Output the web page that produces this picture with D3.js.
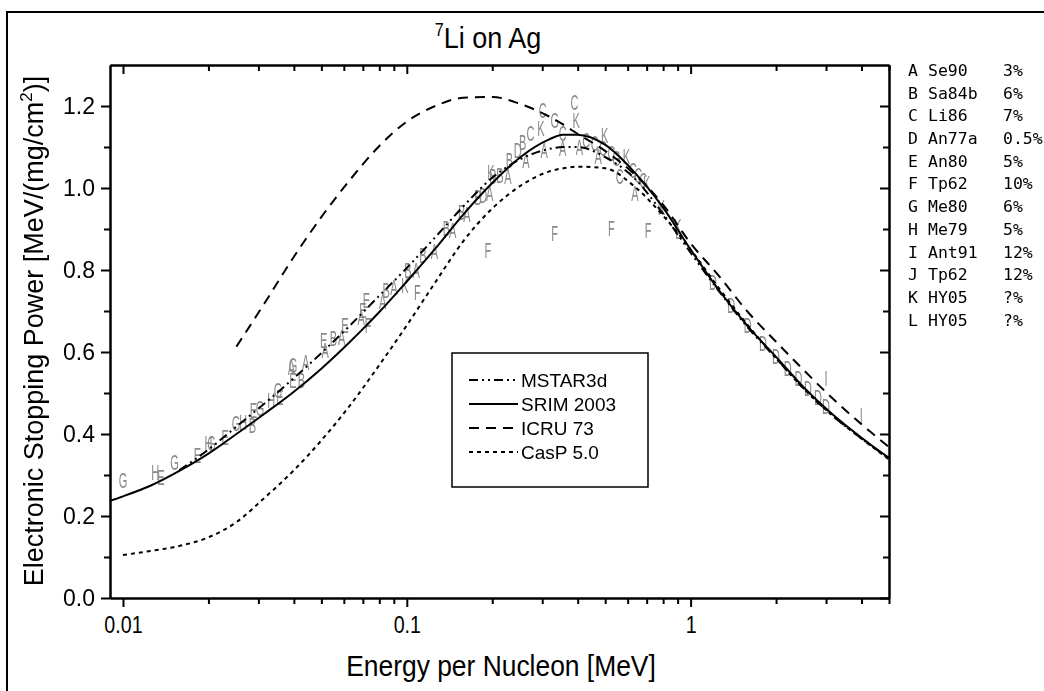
<!DOCTYPE html>
<html>
<head>
<meta charset="utf-8">
<script src="https://cdn.jsdelivr.net/npm/d3@7"></script>
<style>
  body { margin: 0; background: #fff; }
  svg { display: block; }
  .axis path, .axis line { stroke: #000; stroke-width: 2; }
</style>
</head>
<body>
<div id="chart"></div>
<script>
// energy grid (MeV/u) shared by the four tabulated curves
const energyGrid = [0.009, 0.01, 0.0126, 0.0158, 0.02, 0.0251, 0.0316, 0.0398, 0.0501, 0.0631,
  0.0794, 0.1, 0.126, 0.158, 0.2, 0.251, 0.316, 0.355, 0.398, 0.501,
  0.631, 0.794, 1, 1.26, 1.58, 2.0, 2.51, 3.16, 3.98, 5.0];

const mstar3d = [null, null, null, 0.312, 0.362, 0.418, 0.475, 0.535, 0.598, 0.665,
  0.735, 0.805, 0.880, 0.955, 1.025, 1.070, 1.095, 1.100, 1.100, 1.075,
  1.025, 0.940, 0.842, 0.748, 0.662, 0.585, 0.510, 0.445, 0.390, 0.340];

const srim2003 = [0.237, 0.248, 0.275, 0.310, 0.352, 0.400, 0.450, 0.502, 0.560, 0.625,
  0.695, 0.772, 0.852, 0.935, 1.012, 1.075, 1.118, 1.130, 1.130, 1.105,
  1.040, 0.955, 0.850, 0.750, 0.665, 0.588, 0.513, 0.448, 0.392, 0.342];

const icru73 = [null, null, null, null, null, 0.613, 0.720, 0.830, 0.930, 1.020,
  1.100, 1.162, 1.200, 1.220, 1.222, 1.205, 1.175, 1.155, 1.133, 1.090,
  1.035, 0.962, 0.865, 0.785, 0.700, 0.625, 0.555, 0.487, 0.425, 0.368];

const casp50 = [null, 0.105, 0.115, 0.127, 0.148, 0.185, 0.245, 0.310, 0.385, 0.470,
  0.565, 0.665, 0.770, 0.870, 0.950, 1.005, 1.040, 1.048, 1.052, 1.048,
  1.005, 0.935, 0.850, 0.755, 0.668, 0.585, 0.510, 0.445, 0.390, 0.338];

// experimental points, plotted as their reference letter
const pointLetter = ['G','H','E','G','E','H','G','E','G','H','B','E','G','H','E','G','A','G','E','B',
  'A','E','A','B','A','E','A','E','F','E','A','B','A','K','F','B','A','B','A','B',
  'A','B','A','B','F','D','A','B','K','B','A','B','D','A','B','C','K','A','C','G',
  'C','A','C','K','A','C','C','K','C','A','C','G','C','K','C','C','C','K','A','K',
  'K','L','F','F','F','D','D','D','D','D','D','D','D','D','D','I','I'];
const pointEnergy = [0.01, 0.0130, 0.0136, 0.0152, 0.0183, 0.0200, 0.0205, 0.0229, 0.0250, 0.0265,
  0.0286, 0.0288, 0.0304, 0.0333, 0.0357, 0.0352, 0.0392, 0.0397, 0.0397, 0.0425,
  0.0440, 0.0509, 0.0516, 0.0551, 0.0589, 0.0605, 0.069, 0.070, 0.073, 0.072,
  0.0822, 0.0845, 0.090, 0.0984, 0.109, 0.101, 0.108, 0.114, 0.125, 0.138,
  0.145, 0.156, 0.163, 0.178, 0.193, 0.186, 0.196, 0.201, 0.198, 0.213,
  0.227, 0.230, 0.246, 0.263, 0.256, 0.273, 0.297, 0.305, 0.301, 0.332,
  0.354, 0.354, 0.390, 0.395, 0.406, 0.429, 0.459, 0.498, 0.491, 0.472,
  0.526, 0.548, 0.563, 0.594, 0.627, 0.654, 0.681, 0.700, 0.636, 0.789,
  0.902, 0.905, 0.332, 0.526, 0.708, 1.198, 1.39, 1.59, 1.80, 2.00,
  2.20, 2.40, 2.59, 2.81, 3.00, 3.00, 3.99];
const pointPower = [0.288, 0.308, 0.296, 0.332, 0.349, 0.377, 0.377, 0.393, 0.426, 0.430,
  0.422, 0.459, 0.463, 0.483, 0.491, 0.507, 0.564, 0.568, 0.532, 0.532,
  0.576, 0.629, 0.605, 0.633, 0.637, 0.666, 0.686, 0.702, 0.666, 0.727,
  0.723, 0.751, 0.759, 0.763, 0.747, 0.800, 0.800, 0.837, 0.845, 0.902,
  0.898, 0.941, 0.936, 0.978, 0.849, 0.983, 0.987, 1.028, 1.040, 1.032,
  1.028, 1.068, 1.093, 1.068, 1.113, 1.133, 1.145, 1.093, 1.190, 1.166,
  1.133, 1.097, 1.210, 1.166, 1.101, 1.117, 1.109, 1.129, 1.097, 1.077,
  1.085, 1.072, 1.028, 1.077, 1.044, 1.032, 1.020, 1.011, 0.987, 0.954,
  0.906, 0.895, 0.890, 0.902, 0.898, 0.771, 0.715, 0.666, 0.621, 0.589,
  0.560, 0.536, 0.511, 0.491, 0.467, 0.536, 0.446];

// reference key on the right
const refLetters = ['A','B','C','D','E','F','G','H','I','J','K','L'];
const refNames = ['Se90','Sa84b','Li86','An77a','An80','Tp62','Me80','Me79','Ant91','Tp62','HY05','HY05'];
const refErrors = ['3%','6%','7%','0.5%','5%','10%','6%','5%','12%','12%','?%','?%'];

const modelNames = ['MSTAR3d', 'SRIM 2003', 'ICRU 73', 'CasP 5.0'];
const modelDash = ['9,4,2,4,2,4', null, '10,7', '4,4'];
const modelValues = [mstar3d, srim2003, icru73, casp50];

const xMajorTicks = [0.01, 0.1, 1];
const xMinorTicks = [0.02, 0.03, 0.04, 0.05, 0.06, 0.07, 0.08, 0.09,
  0.2, 0.3, 0.4, 0.5, 0.6, 0.7, 0.8, 0.9, 2, 3, 4, 5];
const yMajorTicks = [0, 0.2, 0.4, 0.6, 0.8, 1.0, 1.2];
const yMinorTicks = [0.1, 0.3, 0.5, 0.7, 0.9, 1.1];

const width = 1044, height = 691;
const plot = { left: 110, right: 889, top: 65, bottom: 598 };

const svg = d3.select('#chart').append('svg')
  .attr('width', width)
  .attr('height', height);

// plain filter so the grey letters get greyscale antialiasing
svg.append('defs').append('filter').attr('id', 'flat')
  .append('feColorMatrix').attr('type', 'saturate').attr('values', 0);

// outer frame (runs off the right and bottom edges)
svg.append('rect')
  .attr('x', 7).attr('y', 12)
  .attr('width', 1100).attr('height', 800)
  .attr('fill', 'none').attr('stroke', '#000').attr('stroke-width', 2);

const x = d3.scaleLog().domain([0.009, 5]).range([plot.left, plot.right]);
const y = d3.scaleLinear().domain([0, 1.3]).range([plot.bottom, plot.top]);

const sans = '"Liberation Sans", Arial, sans-serif';

// data letters (behind the curves)
svg.append('g')
  .attr('filter', 'url(#flat)')
  .selectAll('text')
  .data(pointLetter)
  .join('text')
  .attr('transform', (d, i) => `translate(${x(pointEnergy[i])},${y(pointPower[i])}) scale(0.5,1)`)
  .attr('text-anchor', 'middle')
  .attr('dy', '0.36em')
  .attr('font-family', sans)
  .attr('font-size', 22)
  .attr('fill', '#8a8a8a')
  .text(d => d);

// model curves
const line = d3.line()
  .defined(d => d[1] != null)
  .x(d => x(d[0]))
  .y(d => y(d[1]))
  .curve(d3.curveMonotoneX);

modelValues.forEach((vals, k) => {
  svg.append('path')
    .datum(energyGrid.map((e, i) => [e, vals[i]]))
    .attr('fill', 'none')
    .attr('stroke', '#000')
    .attr('stroke-width', 2)
    .attr('stroke-dasharray', modelDash[k])
    .attr('d', line);
});

// axes
function addAxis(axis, transform) {
  return svg.append('g').attr('class', 'axis').attr('transform', transform).call(axis);
}
const noLabel = () => '';

addAxis(d3.axisBottom(x).tickValues(xMinorTicks).tickSize(6).tickSizeOuter(0).tickFormat(noLabel),
  `translate(0,${plot.bottom})`);
const xb = addAxis(d3.axisBottom(x).tickValues(xMajorTicks).tickSize(9).tickSizeOuter(0).tickPadding(9)
  .tickFormat(d3.format('~g')), `translate(0,${plot.bottom})`);
xb.selectAll('text')
  .attr('font-family', sans).attr('font-size', 24).attr('fill', '#000')
  .attr('transform', 'scale(0.82,1)');

addAxis(d3.axisTop(x).tickValues(xMinorTicks).tickSize(-6).tickSizeOuter(0).tickFormat(noLabel),
  `translate(0,${plot.top})`);
addAxis(d3.axisTop(x).tickValues(xMajorTicks).tickSize(-9).tickSizeOuter(0).tickFormat(noLabel),
  `translate(0,${plot.top})`);

addAxis(d3.axisLeft(y).tickValues(yMinorTicks).tickSize(6).tickSizeOuter(0).tickFormat(noLabel),
  `translate(${plot.left},0)`);
const yl = addAxis(d3.axisLeft(y).tickValues(yMajorTicks).tickSize(9).tickSizeOuter(0).tickPadding(6)
  .tickFormat(d3.format('.1f')), `translate(${plot.left},0)`);
yl.selectAll('text').attr('font-family', sans).attr('font-size', 23).attr('fill', '#000');

addAxis(d3.axisRight(y).tickValues(yMinorTicks).tickSize(-6).tickSizeOuter(0).tickFormat(noLabel),
  `translate(${plot.right},0)`);
addAxis(d3.axisRight(y).tickValues(yMajorTicks).tickSize(-9).tickSizeOuter(0).tickFormat(noLabel),
  `translate(${plot.right},0)`);

// title
const title = svg.append('text')
  .attr('transform', 'translate(488,48) scale(0.9,1)')
  .attr('text-anchor', 'middle')
  .attr('font-family', sans)
  .attr('font-size', 30);
title.append('tspan').attr('font-size', 18).attr('dy', -12).text('7');
title.append('tspan').attr('dy', 12).text('Li on Ag');

// axis titles
svg.append('text')
  .attr('transform', 'translate(501,676) scale(0.88,1)')
  .attr('text-anchor', 'middle')
  .attr('font-family', sans)
  .attr('font-size', 30)
  .text('Energy per Nucleon [MeV]');

const yt = svg.append('text')
  .attr('transform', 'translate(43,331) rotate(-90)')
  .attr('text-anchor', 'middle')
  .attr('font-family', sans)
  .attr('font-size', 27);
yt.append('tspan').text('Electronic Stopping Power [MeV/(mg/cm');
yt.append('tspan').attr('font-size', 17).attr('dy', -11).text('2');
yt.append('tspan').attr('dy', 11).text(')]');

// legend box for the model curves
const lg = svg.append('g');
lg.append('rect')
  .attr('x', 452).attr('y', 353)
  .attr('width', 196).attr('height', 134)
  .attr('fill', '#fff').attr('stroke', '#000').attr('stroke-width', 1.5);
modelNames.forEach((name, k) => {
  const ry = 380 + k * 24;
  lg.append('line')
    .attr('x1', 469).attr('x2', 518).attr('y1', ry).attr('y2', ry)
    .attr('stroke', '#000').attr('stroke-width', 2)
    .attr('stroke-dasharray', modelDash[k]);
  lg.append('text')
    .attr('x', 521).attr('y', ry).attr('dy', '0.36em')
    .attr('font-family', sans).attr('font-size', 19)
    .text(name);
});

// reference key
const key = svg.append('g')
  .attr('font-family', '"DejaVu Sans Mono", "Liberation Mono", monospace')
  .attr('font-size', 16.5);
refLetters.forEach((L, i) => {
  const ry = 70 + i * 22.7;
  key.append('text').attr('x', 908).attr('y', ry).attr('dy', '0.36em').text(L);
  key.append('text').attr('x', 928).attr('y', ry).attr('dy', '0.36em').text(refNames[i]);
  key.append('text').attr('x', 1003).attr('y', ry).attr('dy', '0.36em').text(refErrors[i]);
});
</script>
</body>
</html>
